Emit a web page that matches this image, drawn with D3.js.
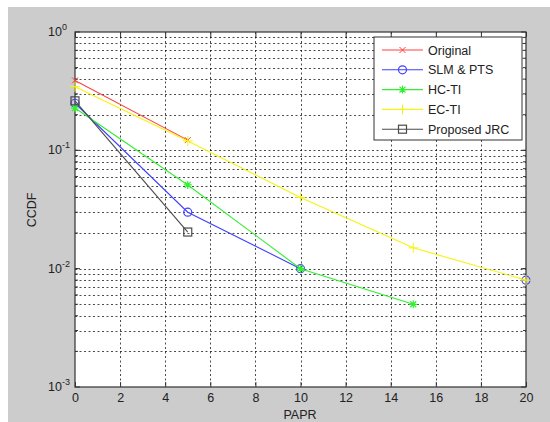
<!DOCTYPE html>
<html>
<head>
<meta charset="utf-8">
<script src="https://cdn.jsdelivr.net/npm/d3@7"></script>
<style>
  body { margin: 0; background: #fff; }
  svg { display: block; font-family: Arial, "Liberation Sans", sans-serif; }
</style>
</head>
<body>
<script>
//data
var papr = [0, 5, 10, 15, 20];
var original = [0.39, 0.122, null, null, null];
var slmPts = [0.25, 0.030, 0.010, null, 0.008];
var hcTi = [0.228, 0.051, 0.010, 0.005, null];
var ecTi = [0.345, 0.12, 0.040, 0.015, 0.008];
var proposedJrc = [0.262, 0.0204, null, null, null];

var xTicks = [0, 2, 4, 6, 8, 10, 12, 14, 16, 18, 20];
var yDecades = [0, -1, -2, -3];

var seriesNames = ["Original", "SLM & PTS", "HC-TI", "EC-TI", "Proposed JRC"];
var seriesValues = [original, slmPts, hcTi, ecTi, proposedJrc];
var seriesColours = ["#ff4040", "#4040ff", "#30f030", "#f4f410", "#4a4a4a"];
var seriesMarkers = ["x", "circle", "star", "plus", "square"];

//layout ("top" is taken by window, so plot_ prefix)
var width = 550;
var height = 422;
var plot_left = 75, plot_right = 526, plot_top = 32, plot_bottom = 387;

var svg = d3.select("body").append("svg")
    .attr("width", width)
    .attr("height", height);

//gray figure background
svg.append("rect")
    .attr("x", 8).attr("y", 7)
    .attr("width", width - 8).attr("height", height - 7)
    .attr("fill", "#cccccc");

svg.append("rect")
    .attr("x", plot_left).attr("y", plot_top)
    .attr("width", plot_right - plot_left).attr("height", plot_bottom - plot_top)
    .attr("fill", "#ffffff");

var x = d3.scaleLinear().domain([0, 20]).range([plot_left, plot_right]);
var y = d3.scaleLog().domain([1e-3, 1]).range([plot_bottom, plot_top]);

//grid lines (dotted like matlab)
var grid = svg.append("g");
xTicks.forEach(function (t) {
    if (t == 0 || t == 20) return;
    grid.append("line")
        .attr("x1", Math.round(x(t)) + 0.5).attr("x2", Math.round(x(t)) + 0.5)
        .attr("y1", plot_top).attr("y2", plot_bottom)
        .attr("stroke", "#000").attr("stroke-width", 1)
        .attr("stroke-dasharray", "2,2.5")
        .attr("stroke-opacity", 0.7);
});
var yGrid = [];
for (var e = -3; e < 0; e++) {
    for (var m = 1; m < 10; m++) {
        if (e == -3 && m == 1) continue;
        yGrid.push(m * Math.pow(10, e));
    }
}
yGrid.forEach(function (v) {
    grid.append("line")
        .attr("x1", plot_left).attr("x2", plot_right)
        .attr("y1", Math.round(y(v)) + 0.5).attr("y2", Math.round(y(v)) + 0.5)
        .attr("stroke", "#000").attr("stroke-width", 1)
        .attr("stroke-dasharray", "2,2.5")
        .attr("stroke-opacity", 0.7);
});

//axes with inside ticks
var xAxis = d3.axisBottom(x).tickValues(xTicks).tickSize(-5).tickPadding(6);
svg.append("g")
    .attr("transform", "translate(0," + plot_bottom + ")")
    .call(xAxis)
    .call(function (g) {
        g.select(".domain").remove();
        g.selectAll("text").attr("font-size", 12.5).attr("fill", "#222").attr("font-family", "Arial, sans-serif");
        g.selectAll("line").attr("stroke", "#333");
    });
svg.append("g")
    .attr("transform", "translate(0," + plot_top + ")")
    .call(d3.axisTop(x).tickValues(xTicks).tickSize(-5).tickFormat(""))
    .call(function (g) {
        g.select(".domain").remove();
        g.selectAll("line").attr("stroke", "#333");
    });

//y ticks and labels
yDecades.forEach(function (d) {
    var yy = y(Math.pow(10, d));
    svg.append("line")
        .attr("x1", plot_left).attr("x2", plot_left + 5)
        .attr("y1", yy).attr("y2", yy).attr("stroke", "#333");
    svg.append("line")
        .attr("x1", plot_right).attr("x2", plot_right - 5)
        .attr("y1", yy).attr("y2", yy).attr("stroke", "#333");
    var t = svg.append("text")
        .attr("x", 48).attr("y", yy + 4)
        .attr("font-size", 12.5).attr("fill", "#222");
    t.append("tspan").text("10");
    t.append("tspan").attr("dy", -6).attr("font-size", 9).text(d);
});
yGrid.forEach(function (v) {
    var yy = y(v);
    svg.append("line").attr("x1", plot_left).attr("x2", plot_left + 3)
        .attr("y1", yy).attr("y2", yy).attr("stroke", "#333");
    svg.append("line").attr("x1", plot_right).attr("x2", plot_right - 3)
        .attr("y1", yy).attr("y2", yy).attr("stroke", "#333");
});

//axes box
svg.append("rect")
    .attr("x", plot_left).attr("y", plot_top)
    .attr("width", plot_right - plot_left).attr("height", plot_bottom - plot_top)
    .attr("fill", "none").attr("stroke", "#333").attr("stroke-width", 1.2);

//axis labels
svg.append("text")
    .attr("x", 300).attr("y", 419)
    .attr("text-anchor", "middle")
    .attr("font-size", 12.5).attr("fill", "#222")
    .text("PAPR");
svg.append("text")
    .attr("transform", "translate(36,210) rotate(-90)")
    .attr("text-anchor", "middle")
    .attr("font-size", 12.5).attr("fill", "#222")
    .text("CCDF");

//markers
function drawMarker(g, kind, cx, cy, colour) {
    if (kind == "x") {
        g.append("path").attr("d", "M" + (cx - 3) + "," + (cy - 3) + "L" + (cx + 3) + "," + (cy + 3) +
            "M" + (cx - 3) + "," + (cy + 3) + "L" + (cx + 3) + "," + (cy - 3))
            .attr("stroke", colour).attr("fill", "none");
    } else if (kind == "circle") {
        g.append("circle").attr("cx", cx).attr("cy", cy).attr("r", 4)
            .attr("stroke", colour).attr("fill", "none").attr("stroke-width", 1.2);
    } else if (kind == "star") {
        g.append("path").attr("d", "M" + (cx - 4) + "," + cy + "L" + (cx + 4) + "," + cy +
            "M" + cx + "," + (cy - 4) + "L" + cx + "," + (cy + 4) +
            "M" + (cx - 3) + "," + (cy - 3) + "L" + (cx + 3) + "," + (cy + 3) +
            "M" + (cx - 3) + "," + (cy + 3) + "L" + (cx + 3) + "," + (cy - 3))
            .attr("stroke", colour).attr("fill", "none").attr("stroke-width", 1.2);
    } else if (kind == "plus") {
        g.append("path").attr("d", "M" + (cx - 5) + "," + cy + "L" + (cx + 5) + "," + cy +
            "M" + cx + "," + (cy - 5) + "L" + cx + "," + (cy + 5))
            .attr("stroke", colour).attr("fill", "none");
    } else if (kind == "square") {
        g.append("rect").attr("x", cx - 4).attr("y", cy - 4).attr("width", 8).attr("height", 8)
            .attr("stroke", colour).attr("fill", "none").attr("stroke-width", 1.2);
    }
}

var line = d3.line()
    .defined(function (d) { return d.v != null; })
    .x(function (d) { return x(d.p); })
    .y(function (d) { return y(d.v); });

var plot = svg.append("g");
seriesValues.forEach(function (vals, i) {
    var pts = papr.map(function (p, j) { return {p: p, v: vals[j]}; });
    plot.append("path")
        .attr("d", line(pts))
        .attr("fill", "none")
        .attr("stroke", seriesColours[i])
        .attr("stroke-width", 1.1);
    pts.forEach(function (d) {
        if (d.v != null) drawMarker(plot, seriesMarkers[i], x(d.p), y(d.v), seriesColours[i]);
    });
});

//legend
var legend = svg.append("g");
legend.append("rect")
    .attr("x", 374).attr("y", 37)
    .attr("width", 148).attr("height", 103)
    .attr("fill", "#fff").attr("stroke", "#333");
seriesNames.forEach(function (name, i) {
    var ly = 50 + i * 19.8;
    legend.append("line")
        .attr("x1", 382).attr("x2", 423)
        .attr("y1", ly).attr("y2", ly)
        .attr("stroke", seriesColours[i]).attr("stroke-width", 1.1);
    drawMarker(legend, seriesMarkers[i], 402.5, ly, seriesColours[i]);
    legend.append("text")
        .attr("x", 428).attr("y", ly + 4.5)
        .attr("font-size", 12.5).attr("fill", "#222")
        .text(name);
});
</script>
</body>
</html>
